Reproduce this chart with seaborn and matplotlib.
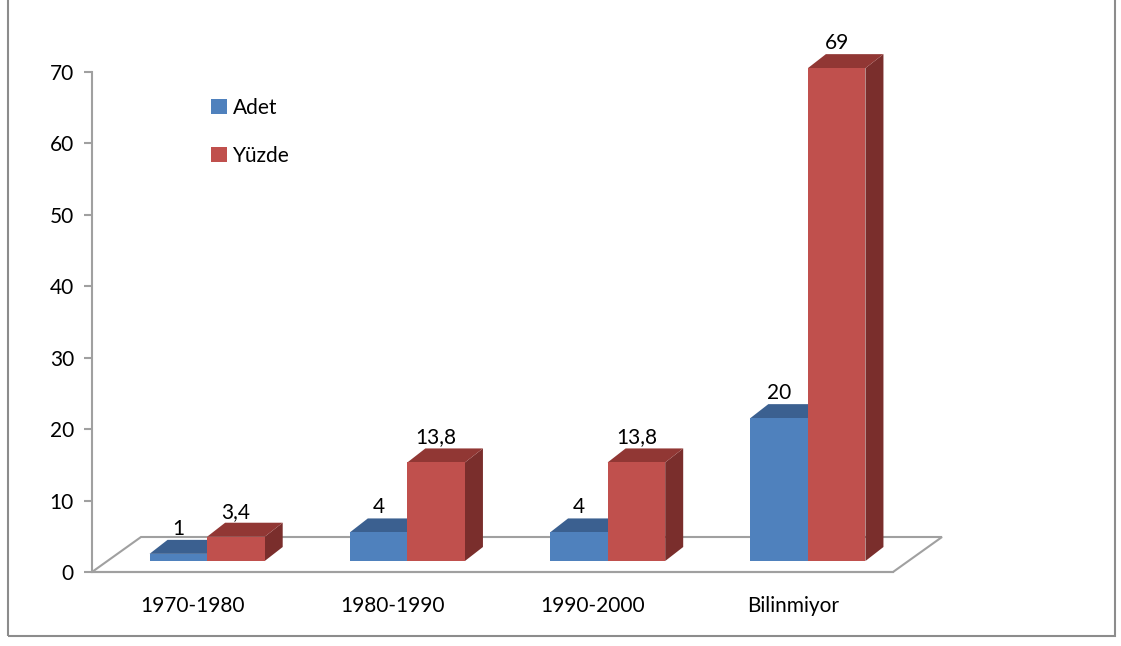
import numpy as np
import pandas as pd
import matplotlib
matplotlib.use('Agg')
import matplotlib.pyplot as plt
import seaborn as sns
from matplotlib.patches import Polygon, Patch, Rectangle
from matplotlib.transforms import ScaledTranslation, IdentityTransform

# data
categories = ['1970-1980', '1980-1990', '1990-2000', 'Bilinmiyor']
adet = [1, 4, 4, 20]
yuzde = [3.4, 13.8, 13.8, 69]
series = ['Adet', 'Yüzde']
yticks = [0, 10, 20, 30, 40, 50, 60, 70]

df = pd.DataFrame({
    'cat': categories * 2,
    'val': adet + yuzde,
    'seri': [series[0]] * 4 + [series[1]] * 4,
})

front = {'Adet': '#4F81BD', 'Yüzde': '#C0504D'}
top = {'Adet': '#3B6090', 'Yüzde': '#913734'}
side = {'Adet': '#325480', 'Yüzde': '#7A2E2C'}
grey = '#A0A0A0'
FS = 15

sns.set_style('white')
plt.rcParams['font.family'] = ['Lato', 'DejaVu Sans']
plt.rcParams['text.color'] = 'black'
plt.rcParams['xtick.color'] = 'black'
plt.rcParams['ytick.color'] = 'black'

DPI = 100
fig = plt.figure(figsize=(11.21, 6.46), dpi=DPI)
ax = fig.add_axes([92 / 1121, 74 / 646, 801 / 1121, 500 / 646])

sns.barplot(data=df, x='cat', y='val', hue='seri', palette=front,
            width=0.575, legend=False, ax=ax, saturation=1, edgecolor='none')

ax.set_xlim(-0.5, 3.5)
ax.set_ylim(0, 70)
ax.set_yticks(yticks)
ax.set_xlabel('')
ax.set_ylabel('')
ax.set_xticks(range(len(categories)))
ax.set_xticklabels(categories, fontsize=FS)
ax.set_xticks(np.arange(-0.5, 4, 1), minor=True)
ax.tick_params(axis='x', which='major', length=0, pad=17)
ax.tick_params(axis='x', which='minor', length=8, color=grey, width=1.5, direction='out')
ax.tick_params(axis='y', length=6, color=grey, width=1.5, direction='out', labelsize=FS, pad=7)
ax.tick_params(axis='both', bottom=True, left=True)
for s in ['top', 'right']:
    ax.spines[s].set_visible(False)
for s in ['left', 'bottom']:
    ax.spines[s].set_color(grey)
    ax.spines[s].set_linewidth(1.5)

# 3D offsets in pixels
fx, fy = 15, 11     # front face shift
dx, dy = 18, 14     # bar depth
flx, fly = 49, 35   # floor depth

fig.canvas.draw()
T = ax.transData

# floor
p0 = T.transform((-0.5, 0))
p1 = T.transform((3.5, 0))
floor = [p0, p1, p1 + [flx, fly], p0 + [flx, fly]]
ax.add_patch(Polygon(floor, closed=True, fill=False, edgecolor=grey, lw=1.5,
                     transform=IdentityTransform(), clip_on=False, zorder=1))

shift = ScaledTranslation(fx / DPI, fy / DPI, fig.dpi_scale_trans)
bars = list(ax.patches)[:8]
labels = [f'{v:g}'.replace('.', ',') for v in adet + yuzde]
for i, p in enumerate(bars):
    name = series[i // 4]
    x0, x1 = p.get_x(), p.get_x() + p.get_width()
    h = p.get_height()
    b = T.transform((x1, 0)) + [fx, fy]
    c = T.transform((x1, h)) + [fx, fy]
    d = T.transform((x0, h)) + [fx, fy]
    dd = np.array([dx, dy])
    sidef = [b, b + dd, c + dd, c]
    topf = [d, c, c + dd, d + dd]
    z = 2 + i % 4 * 3 + i // 4 * 1.5
    ax.add_patch(Polygon(sidef, closed=True, facecolor=side[name], edgecolor='none',
                         transform=IdentityTransform(), clip_on=False, zorder=z))
    ax.add_patch(Polygon(topf, closed=True, facecolor=top[name], edgecolor='none',
                         transform=IdentityTransform(), clip_on=False, zorder=z + 0.2))
    p.set_transform(T + shift)
    p.set_clip_on(False)
    p.set_zorder(z + 0.4)
    tx = (d[0] + c[0]) / 2
    ax.text(tx, d[1] + dy + 1, labels[i], ha='center', va='bottom', fontsize=FS,
            transform=IdentityTransform(), zorder=20)

handles = [Patch(facecolor=front[s], edgecolor='none') for s in series]
ax.legend(handles, series, loc='upper left', bbox_to_anchor=(0.149, 0.949),
          frameon=False, fontsize=FS, handlelength=0.75, handleheight=0.75,
          handletextpad=0.3, labelspacing=1.35, borderaxespad=0, borderpad=0)

# chart border
fig.patches.append(Rectangle((8 / 1121, 10 / 646), 1107 / 1121, 0.995, transform=fig.transFigure,
                             fill=False, edgecolor='#8C8C8C', lw=1.5))

fig.savefig('out.png', dpi=DPI)
